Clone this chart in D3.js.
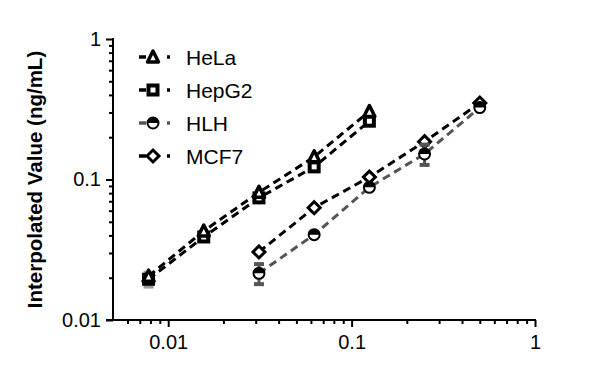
<!doctype html>
<html>
<head>
<meta charset="utf-8">
<title>Interpolated Value</title>
<style>
  body { margin: 0; background: #fff; font-family: Arial, 'Liberation Sans', Helvetica, sans-serif; }
  .axis path, .axis line { stroke: #000; stroke-width: 2; }
  .axis text { font-size: 20px; fill: #000; font-family: Arial, 'Liberation Sans', Helvetica, sans-serif; }
</style>
</head>
<body>
<svg></svg>
<script src="https://d3js.org/d3.v7.min.js"></script>
<script>
var width = 600, height = 373;

// concentrations (x) shared by all series
var xVals = [0.0078125, 0.015625, 0.03125, 0.0625, 0.125, 0.25, 0.5];

var helaVals  = [0.0205, 0.043, 0.081, 0.145, 0.305, null, null];
var hepg2Vals = [0.0195, 0.039, 0.074, 0.123, 0.26, null, null];
var hlhVals   = [null, null, 0.0215, 0.0405, 0.088, 0.152, 0.325];
var mcf7Vals  = [null, null, 0.0305, 0.063, 0.104, 0.186, 0.35];

var hepg2Err = [0.0022, 0, 0, 0, 0, 0, 0];
var hlhErr   = [0, 0, 0.0035, 0, 0, 0.025, 0];

var seriesNames = ['HeLa', 'HepG2', 'HLH', 'MCF7'];
var xTickLabels = ['0.01', '0.1', '1'];
var yTickLabels = ['0.01', '0.1', '1'];

var series = [
  { name: 'HeLa',  vals: helaVals,  err: null,     color: '#000', errColor: '#000', shape: 'triangle' },
  { name: 'HepG2', vals: hepg2Vals, err: hepg2Err, color: '#000', errColor: '#999', shape: 'square' },
  { name: 'HLH',   vals: hlhVals,   err: hlhErr,   color: '#555', errColor: '#555', shape: 'half' },
  { name: 'MCF7',  vals: mcf7Vals,  err: null,     color: '#000', errColor: '#000', shape: 'diamond' }
];

var svg = d3.select('svg').attr('width', width).attr('height', height);

var x = d3.scaleLog().domain([0.005, 1]).range([113, 535]);
var y = d3.scaleLog().domain([0.01, 1]).range([320, 39]);

function tickVals(lo, hi){
  var out = [];
  for(var e = -3; e <= 0; e++){
    for(var m = 1; m <= 9; m++){
      var v = +(m * Math.pow(10, e)).toPrecision(3);
      if(v >= lo - 1e-9 && v <= hi + 1e-9) out.push(v);
    }
  }
  return out;
}
function isMajor(v){ return xTickLabels.indexOf(String(v)) !== -1; }

// x axis
var gx = svg.append('g').attr('class', 'axis')
  .attr('transform', 'translate(0,320)')
  .call(d3.axisBottom(x).tickValues(tickVals(0.006, 1)).tickSize(6).tickSizeOuter(0)
    .tickFormat(function(d){ return isMajor(d) ? String(d) : ''; }));
gx.selectAll('.tick line').attr('y2', function(d){ return isMajor(d) ? 7 : 4; });
gx.selectAll('.tick text').attr('y', 15);
gx.select('.domain').attr('d', 'M106,0H536');

// y axis
var gy = svg.append('g').attr('class', 'axis')
  .attr('transform', 'translate(113,0)')
  .call(d3.axisLeft(y).tickValues(tickVals(0.01, 1)).tickSize(6).tickSizeOuter(0)
    .tickFormat(function(d){ return yTickLabels.indexOf(String(d)) !== -1 ? String(d) : ''; }));
gy.selectAll('.tick line').attr('x2', function(d){ return isMajor(d) ? -7 : -4; });
gy.selectAll('.tick text').attr('x', -12);
gy.select('.domain').attr('d', 'M0,38V321');

svg.append('text')
  .attr('transform', 'translate(42,' + ((39 + 320) / 2) + ') rotate(-90)')
  .attr('text-anchor', 'middle')
  .style('font-size', '20.5px').style('font-weight', 'bold')
  .text('Interpolated Value (ng/mL)');

function drawMarker(g, shape, color){
  var s = 6;
  if(shape === 'triangle'){
    g.append('path').attr('d', 'M0,' + (-s) + 'L' + (s - 0.5) + ',' + (s - 1) + 'L' + (-s + 0.5) + ',' + (s - 1) + 'Z')
      .attr('fill', '#fff').attr('stroke', color).attr('stroke-width', 3.5).attr('stroke-linejoin', 'round');
  } else if(shape === 'square'){
    g.append('rect').attr('x', -s + 1.5).attr('y', -s + 1.5).attr('width', 2 * s - 3).attr('height', 2 * s - 3)
      .attr('fill', '#fff').attr('stroke', color).attr('stroke-width', 4);
  } else if(shape === 'diamond'){
    g.append('path').attr('d', 'M0,' + (-s) + 'L' + (s) + ',0L0,' + (s) + 'L' + (-s) + ',0Z')
      .attr('fill', '#fff').attr('stroke', color).attr('stroke-width', 3);
  } else {
    g.append('circle').attr('r', s - 0.5).attr('fill', '#fff').attr('stroke', '#000').attr('stroke-width', 2);
    g.append('path').attr('d', 'M' + (-s + 0.5) + ',0A' + (s - 0.5) + ',' + (s - 0.5) + ' 0 0 1 ' + (s - 0.5) + ',0Z')
      .attr('fill', '#000');
  }
}

var line = d3.line()
  .defined(function(d){ return d.v !== null; })
  .x(function(d){ return x(d.x); })
  .y(function(d){ return y(d.v); });

// draw back to front: MCF7, HLH, HepG2, HeLa
series.slice().reverse().forEach(function(s){
  var pts = xVals.map(function(xv, i){ return { x: xv, v: s.vals[i], e: s.err ? s.err[i] : 0 }; });
  var g = svg.append('g');
  g.append('path').datum(pts.filter(function(d){ return d.v !== null; }))
    .attr('d', line).attr('fill', 'none')
    .attr('stroke', s.color).attr('stroke-width', 3).attr('stroke-dasharray', '8,5');
  pts.forEach(function(d){
    if(d.v === null) return;
    if(d.e > 0){
      var y0 = y(d.v - d.e), y1 = y(d.v + d.e), cx = x(d.x);
      g.append('line').attr('x1', cx).attr('x2', cx).attr('y1', y0).attr('y2', y1)
        .attr('stroke', s.errColor).attr('stroke-width', 3);
      [y0, y1].forEach(function(yy){
        g.append('line').attr('x1', cx - 5).attr('x2', cx + 5).attr('y1', yy).attr('y2', yy)
          .attr('stroke', s.errColor).attr('stroke-width', 4);
      });
    }
    var m = g.append('g').attr('transform', 'translate(' + x(d.x) + ',' + y(d.v) + ')');
    drawMarker(m, s.shape, s.color);
  });
});

// legend
var legend = svg.append('g').attr('transform', 'translate(138,57)');
seriesNames.forEach(function(name, i){
  var s = series[i];
  var row = legend.append('g').attr('transform', 'translate(0,' + (i * 33) + ')');
  row.append('line').attr('x1', 1).attr('x2', 32).attr('y1', 0).attr('y2', 0)
    .attr('stroke', s.color).attr('stroke-width', 3.5).attr('stroke-dasharray', '7,21,3');
  var m = row.append('g').attr('transform', 'translate(15,0)');
  drawMarker(m, s.shape, s.color);
  row.append('text').attr('x', 48).attr('y', 0).attr('dy', '0.36em')
    .style('font-size', '21px').text(name);
});
</script>
</body>
</html>
